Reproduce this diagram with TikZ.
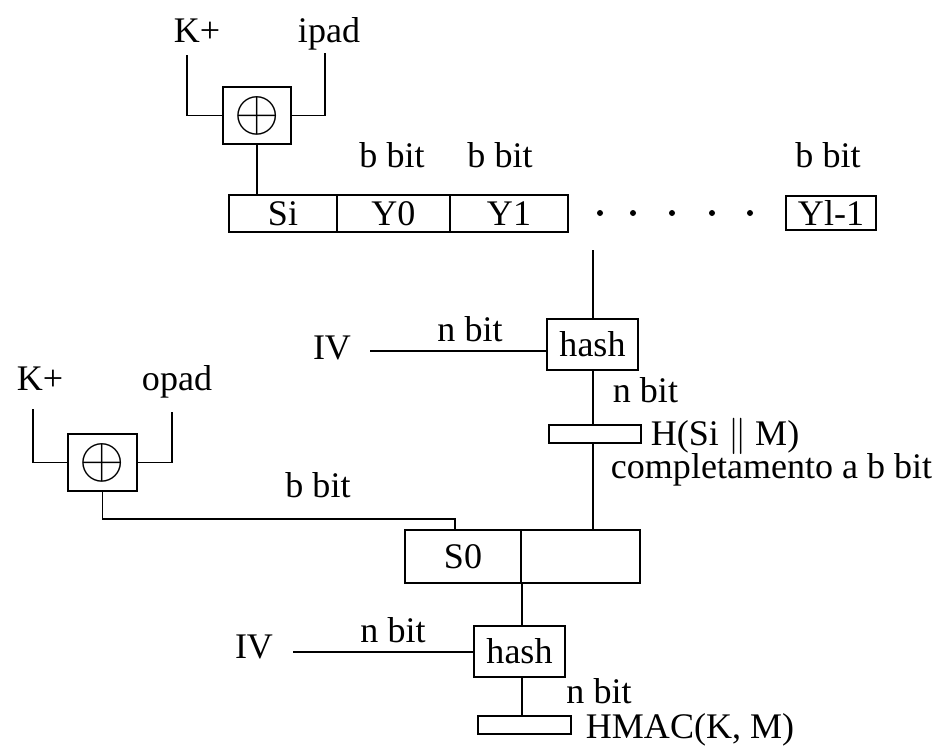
\documentclass[tikz,border=0pt]{standalone}
\usepackage{fontspec}
\setmainfont{Liberation Serif}
\usepackage{amssymb}

\begin{document}
\begin{tikzpicture}[x=0.02cm,y=-0.02cm,line width=1.1pt,font=\fontsize{20.5}{24}\selectfont]
  \tikzstyle{xorbox}=[draw,minimum width=1.37cm,minimum height=1.14cm,inner sep=0pt]
  \tikzstyle{cell}=[draw,minimum height=0.74cm,inner sep=0pt]
  \tikzstyle{hashbox}=[draw,minimum width=1.82cm,minimum height=1.02cm,inner sep=0pt]
  \tikzstyle{outbox}=[draw,minimum width=1.85cm,minimum height=0.36cm,inner sep=0pt]
  \tikzstyle{lab}=[inner sep=0pt,anchor=base]
  \useasboundingbox (0,0) rectangle (943,748);

  % inner padding: K+ xor ipad
  \node[xorbox] (xor1) at (257,115.5) {\scalebox{1.6}{$\oplus$}};
  \node[lab] (kp1) at (197,42) {K+};
  \node[lab] (ipad) at (329,42) {ipad};
  \coordinate (kp1-in) at (187,55);
  \coordinate (ipad-in) at (325,53);
  \draw (kp1-in) |- (xor1.west);
  \draw (ipad-in) |- (xor1.east);

  % message blocks
  \foreach \name/\lab/\x/\w in {si/Si/283/2.16,y0/Y0/393.5/2.26,y1/Y1/509/2.36}
    \node[cell,minimum width=\w cm] (B-\name) at (\x,213.5) {\lab};
  \node[cell,minimum width=1.8cm,minimum height=0.68cm] (B-yl) at (831,213) {Yl-1};
  \foreach \name/\x in {y0/392,y1/500,yl/828}
    \node[lab] (bb-\name) at (\x,167) {b bit};
  \foreach \x in {600,633,672,712,750}
    \fill (\x,213) circle (0.06cm);
  \draw (xor1.south) -- (xor1.south |- B-si.north);

  % inner hash
  \coordinate (msg) at (593,250);
  \node[hashbox] (hash1) at (592.5,344.5) {hash};
  \node[lab] (iv1) at (332,359) {IV};
  \coordinate (iv1-out) at (370,351);
  \node[lab] (nb1) at (470,341) {n bit};
  \draw (msg) -- (msg |- hash1.north);
  \draw (iv1-out) -- (iv1-out -| hash1.west);
  \node[outbox] (hr1) at (595,434) {};
  \node[lab,anchor=base west] (nb2) at (612,402) {n bit};
  \node[lab,anchor=base west] (hsm) at (650,445) {H(Si $\|$ M)};
  \node[lab,anchor=base west] (compl) at (610,478) {completamento a b bit};
  \draw (hash1.south -| msg) -- (msg |- hr1.north);

  % outer padding: K+ xor opad
  \node[xorbox] (xor2) at (102.5,462.5) {\scalebox{1.6}{$\oplus$}};
  \node[lab] (kp2) at (40,390) {K+};
  \node[lab] (opad) at (177,390) {opad};
  \coordinate (kp2-in) at (33,409);
  \coordinate (opad-in) at (172,412);
  \draw (kp2-in) |- (xor2.west);
  \draw (opad-in) |- (xor2.east);

  % outer block
  \node[cell,minimum width=2.32cm,minimum height=1.06cm] (C-s0) at (463,556.5) {S0};
  \node[cell,minimum width=2.38cm,minimum height=1.06cm] (C-h) at (580.5,556.5) {};
  \draw (hr1.south -| msg) -- (msg |- C-h.north);
  \coordinate (pad-bend) at (455,519);
  \draw (xor2.south) |- (pad-bend) -- (pad-bend |- C-s0.north);
  \node[lab] (bb-s0) at (318,497) {b bit};

  % outer hash
  \node[hashbox] (hash2) at (519.5,651.5) {hash};
  \draw (C-s0.south east) -- (C-s0.south east |- hash2.north);
  \node[lab] (iv2) at (254,658) {IV};
  \coordinate (iv2-out) at (293,652);
  \draw (iv2-out) -- (iv2-out -| hash2.west);
  \node[lab] (nb3) at (393,642) {n bit};
  \node[outbox] (hr2) at (524.5,725) {};
  \draw (hash2.south -| C-s0.south east) -- (C-s0.south east |- hr2.north);
  \node[lab] (nb4) at (599,703) {n bit};
  \node[lab,anchor=base west] (hmac) at (585,738) {HMAC(K, M)};
\end{tikzpicture}
\end{document}
